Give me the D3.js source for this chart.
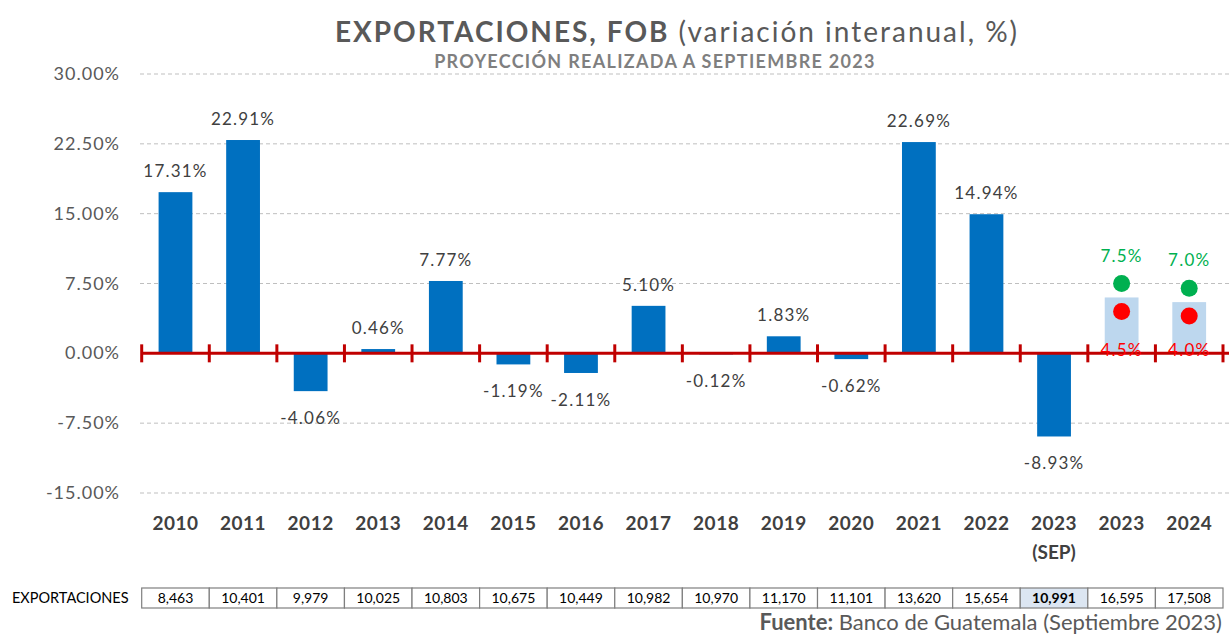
<!DOCTYPE html>
<html>
<head>
<meta charset="utf-8">
<script src="https://cdn.jsdelivr.net/npm/d3@7"></script>
<style>
  body { margin: 0; background: #fff; }
  svg { font-family: Lato, "Open Sans", sans-serif; }
</style>
</head>
<body>
<svg id="chart" width="1229" height="635"></svg>
<script>
// Data
const years = ["2010","2011","2012","2013","2014","2015","2016","2017","2018","2019","2020","2021","2022","2023","2023","2024"];
const subLabels = ["","","","","","","","","","","","","","(SEP)","",""];
const variation = [17.31, 22.91, -4.06, 0.46, 7.77, -1.19, -2.11, 5.10, -0.12, 1.83, -0.62, 22.69, 14.94, -8.93, null, null];
// projection range (mid bar), high and low points for 2023, 2024
const projMid = [6.0, 5.5];
const projHigh = [7.5, 7.0];
const projLow = [4.5, 4.0];
const exportsTable = ["8,463","10,401","9,979","10,025","10,803","10,675","10,449","10,982","10,970","11,170","11,101","13,620","15,654","10,991","16,595","17,508"];
const yTicks = [-15, -7.5, 0, 7.5, 15, 22.5, 30];

const svg = d3.select("#chart");
const keys = years.map((d, i) => i);

const x = d3.scaleBand().domain(keys).range([141.7, 1223]).paddingInner(0.5).paddingOuter(0.25);
const step = x.step();
const y = d3.scaleLinear().domain([-15, 30]).range([493, 74]);

const gray = "#595959";

// Title
const title = svg.append("text")
  .attr("x", 677).attr("y", 42)
  .attr("text-anchor", "middle")
  .style("font-size", "28px").style("letter-spacing", "2px").attr("fill", gray);
title.append("tspan").attr("font-weight", "bold").text("EXPORTACIONES, FOB");
title.append("tspan").text(" (variación interanual, %)");

svg.append("text")
  .attr("x", 655).attr("y", 68)
  .attr("text-anchor", "middle")
  .attr("font-weight", "bold")
  .style("font-size", "18px").style("letter-spacing", "1.3px").attr("fill", "#7f7f7f")
  .text("PROYECCIÓN REALIZADA A SEPTIEMBRE 2023");

// Gridlines
svg.append("g").selectAll("line")
  .data(yTicks.filter(d => d !== 0))
  .join("line")
  .attr("x1", 140).attr("x2", 1229)
  .attr("y1", d => y(d)).attr("y2", d => y(d))
  .attr("stroke", "#bfbfbf").attr("stroke-dasharray", "4,3");

// Y axis labels
svg.append("g").selectAll("text")
  .data(yTicks)
  .join("text")
  .attr("x", 120).attr("y", d => y(d) + 6)
  .attr("text-anchor", "end")
  .style("font-size", "18px").style("letter-spacing", "1px").attr("fill", gray)
  .text(d => d.toFixed(2) + "%");

// Projection bars
const projIdx = [14, 15];
svg.append("g").selectAll("rect")
  .data(projIdx)
  .join("rect")
  .attr("x", d => x(d)).attr("width", x.bandwidth())
  .attr("y", (d, i) => y(projMid[i])).attr("height", (d, i) => y(0) - y(projMid[i]))
  .attr("fill", "#bdd7ee");

// Bars
const barData = keys.filter(i => variation[i] !== null);
svg.append("g").selectAll("rect")
  .data(barData)
  .join("rect")
  .attr("x", i => x(i)).attr("width", x.bandwidth())
  .attr("y", i => y(Math.max(0, variation[i])))
  .attr("height", i => Math.abs(y(variation[i]) - y(0)))
  .attr("fill", "#0070c0");

// Bar labels
svg.append("g").selectAll("text")
  .data(barData)
  .join("text")
  .attr("x", i => x(i) + x.bandwidth() / 2)
  .attr("y", i => variation[i] >= 0 ? y(variation[i]) - 15 : y(variation[i]) + 33)
  .attr("text-anchor", "middle")
  .style("font-size", "17px").style("letter-spacing", "1.2px").attr("fill", "#404040")
  .text(i => variation[i].toFixed(2) + "%");

// Zero axis line with ticks
const axisG = svg.append("g").attr("stroke", "#c00000").attr("stroke-width", 3);
axisG.append("line").attr("x1", 141.7).attr("x2", 1229).attr("y1", y(0)).attr("y2", y(0));
axisG.selectAll("line.tick")
  .data(d3.range(0, 17))
  .join("line").attr("class", "tick")
  .attr("x1", d => 141.7 + d * step).attr("x2", d => 141.7 + d * step)
  .attr("y1", y(0) - 9).attr("y2", y(0) + 9);

// Projection points and labels
const cx = i => x(projIdx[i]) + x.bandwidth() / 2;
svg.append("g").selectAll("circle.hi")
  .data(projHigh).join("circle").attr("class", "hi")
  .attr("cx", (d, i) => cx(i)).attr("cy", d => y(d)).attr("r", 8.5).attr("fill", "#00b050");
svg.append("g").selectAll("circle.lo")
  .data(projLow).join("circle").attr("class", "lo")
  .attr("cx", (d, i) => cx(i)).attr("cy", d => y(d)).attr("r", 8.5).attr("fill", "#ff0000");
svg.append("g").selectAll("text")
  .data(projHigh).join("text")
  .attr("x", (d, i) => cx(i)).attr("y", d => y(d) - 22)
  .attr("text-anchor", "middle").style("font-size", "17px").style("letter-spacing", "1.2px").attr("fill", "#00b050")
  .text(d => d.toFixed(1) + "%");
svg.append("g").selectAll("text")
  .data(projLow).join("text")
  .attr("x", (d, i) => cx(i)).attr("y", y(0) + 3)
  .attr("text-anchor", "middle").style("font-size", "17px").style("letter-spacing", "1.2px").attr("fill", "#ff0000")
  .text(d => d.toFixed(1) + "%");

// X labels
svg.append("g").selectAll("text")
  .data(keys).join("text")
  .attr("x", i => x(i) + x.bandwidth() / 2).attr("y", 530)
  .attr("text-anchor", "middle").attr("font-weight", "bold")
  .style("font-size", "19px").style("letter-spacing", "0.5px").attr("fill", "#404040")
  .text(i => years[i]);
svg.append("g").selectAll("text")
  .data(keys.filter(i => subLabels[i])).join("text")
  .attr("x", i => x(i) + x.bandwidth() / 2).attr("y", 559)
  .attr("text-anchor", "middle").attr("font-weight", "bold")
  .style("font-size", "19px").attr("fill", "#404040")
  .text(i => subLabels[i]);

// Table
svg.append("text").attr("x", 12).attr("y", 603)
  .style("font-size", "14.5px").attr("fill", "#000").text("EXPORTACIONES");
const cells = svg.append("g").selectAll("g").data(keys).join("g");
cells.append("rect")
  .attr("x", i => 141.7 + i * step).attr("y", 588)
  .attr("width", step).attr("height", 20)
  .attr("fill", i => i === 13 ? "#dce6f2" : "#fff")
  .attr("stroke", "#7f7f7f").attr("stroke-width", 1.2);
cells.append("text")
  .attr("x", i => 141.7 + i * step + step / 2).attr("y", 603)
  .attr("text-anchor", "middle")
  .attr("font-weight", i => i === 13 ? "bold" : "normal")
  .style("font-size", "14px").attr("fill", "#000")
  .text(i => exportsTable[i]);

// Source
const src = svg.append("text").attr("x", 1222).attr("y", 630)
  .attr("text-anchor", "end").style("font-size", "22px").attr("fill", gray);
src.append("tspan").attr("font-weight", "bold").text("Fuente:");
src.append("tspan").text(" Banco de Guatemala (Septiembre 2023)");
</script>
</body>
</html>
